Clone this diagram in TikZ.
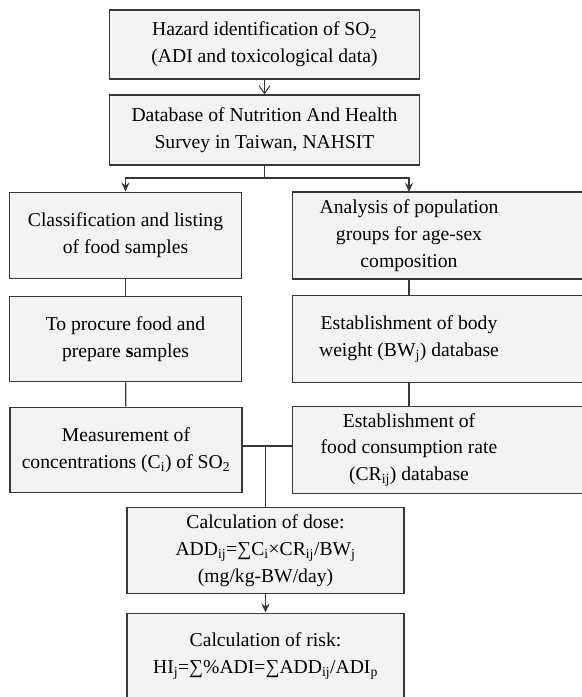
\documentclass[tikz,border=0pt]{standalone}
\usepackage{fontspec}
\setmainfont{Liberation Serif}
\usepackage{xcolor}
\usetikzlibrary{backgrounds,arrows.meta}
\definecolor{boxfill}{RGB}{243,243,243}
\definecolor{boxline}{RGB}{55,55,55}
\tikzset{box/.style={rectangle,draw=boxline,fill=boxfill,line width=1.3pt,align=center,inner sep=0pt,font=\fontsize{19.7}{27}\selectfont},
         txt/.style={rectangle,align=center,inner sep=0pt,minimum width=234,minimum height=87,font=\fontsize{19.7}{27}\selectfont},
         conn/.style={draw=boxline,line width=1.3pt}}

\begin{document}
\begin{tikzpicture}[x=1bp,y=-1bp,>={Stealth[length=9pt,width=8pt]}]
    \useasboundingbox (0,0) rectangle (582,697);

    \node[box,minimum width=311,minimum height=69] (haz) at (264.5,44.5) {Hazard identification of SO\textsubscript{2}\\(ADI and toxicological data)};
    \node[box,minimum width=311,minimum height=70] (nah) at (264.5,130) {Database of Nutrition And Health\\Survey in Taiwan, NAHSIT};

    \node[box,minimum width=233,minimum height=87] (cls) at (125.5,235.5) {Classification and listing\\of food samples};
    \node[box,minimum width=233,minimum height=86] (proc) at (125.5,339) {To procure food and\\prepare \textbf{s}amples};
    \node[box,minimum width=233,minimum height=86] (meas) at (126,450) {Measurement of\\concentrations (C\textsubscript{i}) of SO\textsubscript{2}};

    \node[txt] (pop) at (409,235.5) {Analysis of population\\groups for age-sex\\composition};
    \node[txt] (bw) at (409,339) {Establishment of body\\weight (BW\textsubscript{j}) database};
    \node[txt] (cr) at (409,450) {Establishment of\\food consumption rate\\(CR\textsubscript{ij}) database};

    \node[box,minimum width=278,minimum height=87] (dose) at (265.5,550.5) {Calculation of dose:\\ADD\textsubscript{ij}=∑C\textsubscript{i}×CR\textsubscript{ij}/BW\textsubscript{j}\\(mg/kg-BW/day)};
    \node[box,minimum width=278,minimum height=87] (risk) at (265.5,656.5) {Calculation of risk:\\HI\textsubscript{j}=∑\%ADI=∑ADD\textsubscript{ij}/ADI\textsubscript{p}};

    % right column runs off the page
    \begin{scope}[on background layer]
        \foreach \n in {pop,bw,cr}
            \filldraw[fill=boxfill,draw=boxline,line width=1.3pt] (\n.north west) rectangle ([xshift=100]\n.south east);
    \end{scope}

    \coordinate (split) at (264.5,178);
    \coordinate (join) at (265.5,446);

    \draw [conn,-{Straight Barb[length=8pt,width=11pt,line width=1pt]}] (haz) -- (nah);
    \draw [conn] (nah) -- (split);
    \draw [conn,->] (split) -| (cls);
    \draw [conn,->] (split) -| (pop);
    \draw [conn] (cls) -- (proc);
    \draw [conn] (proc) -- (meas);
    \draw [conn] (pop) -- (bw);
    \draw [conn] (bw) -- (cr);
    \draw [conn] (meas.east |- join) -- (cr.west |- join);
    \draw [conn] (join) -- (dose);
    \draw [conn,->] (dose) -- (risk);
\end{tikzpicture}
\end{document}
